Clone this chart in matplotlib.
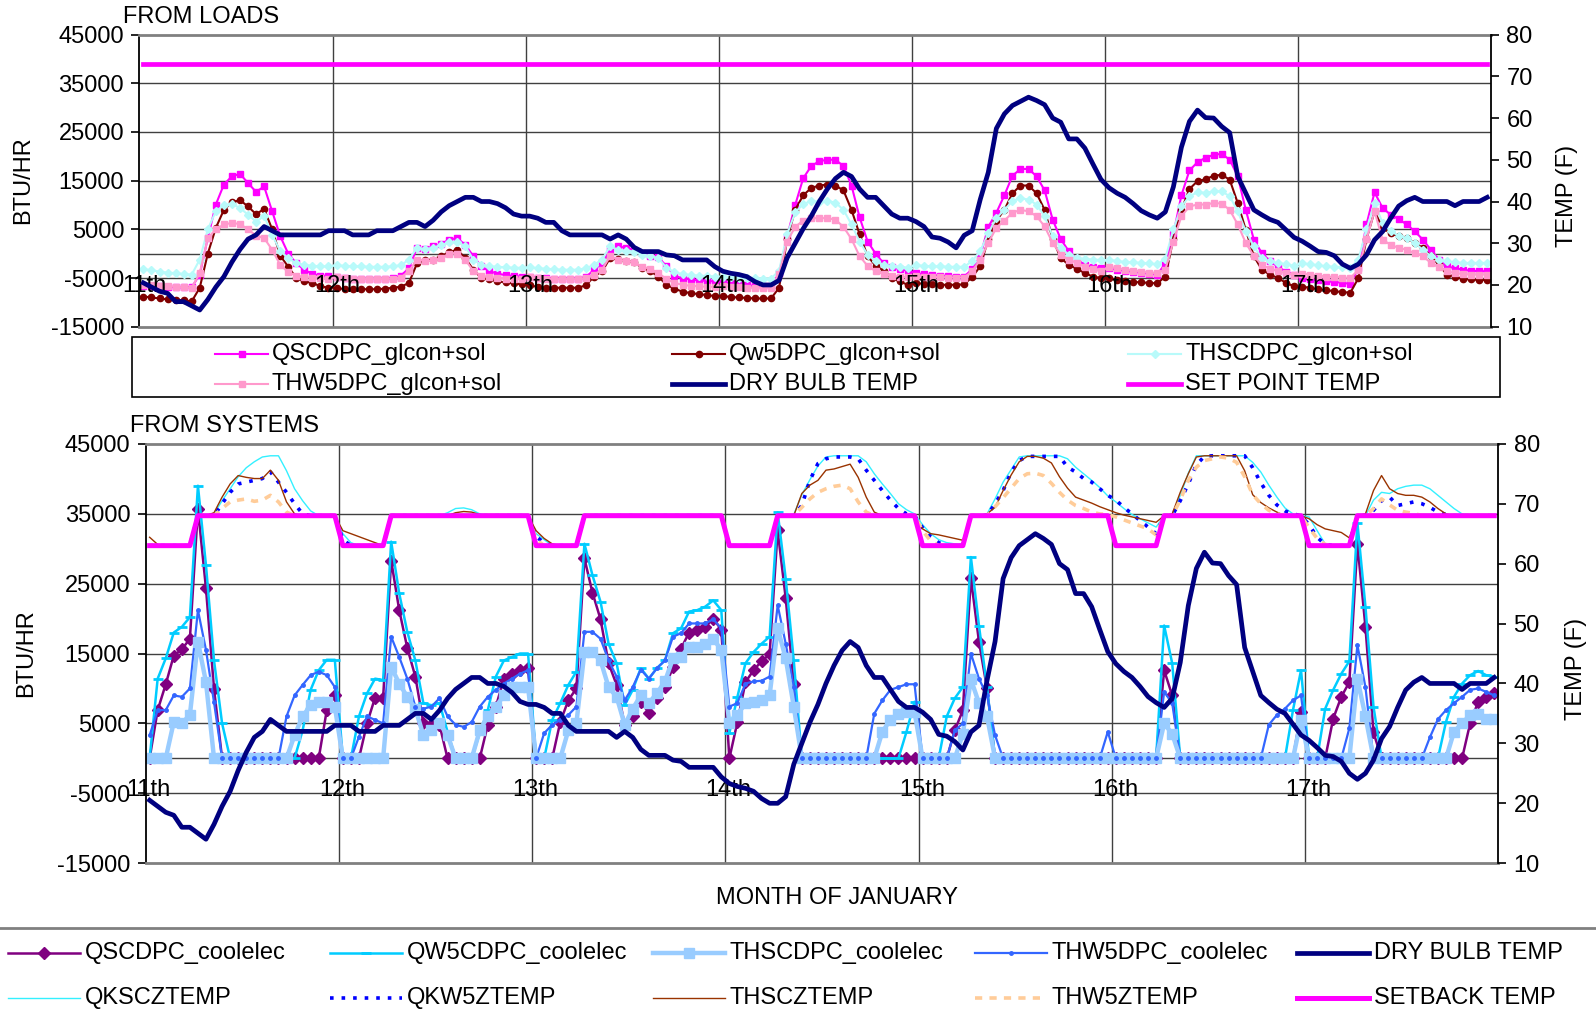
import numpy as np
import matplotlib
matplotlib.use('Agg')
import matplotlib.pyplot as plt
from matplotlib.lines import Line2D
from matplotlib.patches import Rectangle

plt.rcParams['font.family'] = ['Liberation Sans', 'DejaVu Sans']
plt.rcParams['axes.unicode_minus'] = False

days = ['11th', '12th', '13th', '14th', '15th', '16th', '17th']

# ---- hourly data, one row per day (11th .. 17th) ----
dry_bulb = [
    [20.5, 19.5, 18.5, 18, 16, 16, 15, 14, 16.5, 19.5, 22, 25.5, 28.5, 31, 32, 34, 33, 32, 32, 32, 32, 32, 32, 33],
    [33, 33, 32, 32, 32, 33, 33, 33, 34, 35, 35, 34, 35.5, 37.5, 39, 40, 41, 41, 40, 40, 39.5, 38.5, 37, 36.5],
    [36.5, 36, 35, 35, 33, 32, 32, 32, 32, 32, 31, 32, 31, 29, 28, 28, 28, 27.2, 27, 26, 26, 26, 26, 24.4],
    [23.3, 22.8, 22.5, 22, 20.8, 20, 20, 21.1, 26.5, 30, 33.5, 36.5, 40, 43, 45.5, 47, 46, 43, 41, 41, 39, 37, 36, 36],
    [35.2, 34, 31.5, 31.2, 30.3, 28.9, 31.9, 33, 40.5, 47, 57.5, 61, 63, 64, 65, 64.2, 63.2, 60, 59, 55, 55, 52.8, 49, 45.3],
    [43.3, 42, 41, 39.5, 37.8, 36.8, 36, 37.5, 43.5, 53, 59.2, 61.9, 60.1, 60, 58, 56.5, 46, 42, 38, 36.8, 35.7, 35, 33.2, 31.4],
    [30.5, 29.3, 28, 27.8, 27, 25, 24, 25, 27.2, 30.8, 32.8, 36, 38.9, 40.2, 41, 40, 40, 40, 40, 39, 40, 40, 40, 41],
]
set_point = [73] * 168

qsc_load = [
    [-6700, -6700, -6700, -6800, -6900, -6900, -6900, -4300, 3200, 10100, 14200, 15900, 16400, 14500, 12700, 13800, 8700, 3600, 0, -2000, -3300, -4200, -4500, -4600],
    [-4800, -5000, -5100, -5200, -5200, -5200, -5200, -5000, -4500, -3000, 1200, 1000, 1500, 2000, 2900, 3200, 1800, -500, -2600, -3600, -4100, -4400, -4600, -4700],
    [-4700, -4900, -5000, -5100, -5100, -5100, -5100, -4800, -3300, -2000, 800, 1500, 1200, 800, 100, -500, -700, -2600, -4500, -5100, -5300, -5500, -5600, -5700],
    [-5800, -6000, -6300, -6500, -6600, -6700, -6700, -4000, 3500, 10000, 15500, 18000, 19000, 19300, 19300, 18000, 14000, 7500, 2500, 0, -2000, -2800, -3200, -3500],
    [-4000, -4200, -4400, -4500, -4600, -4700, -4700, -3200, -500, 5500, 8400, 12000, 16000, 17400, 17400, 15900, 13000, 7000, 3000, 500, -1200, -2300, -2700, -2900],
    [-3000, -3300, -3500, -3700, -3900, -4100, -4300, -2000, 4000, 12000, 17100, 18800, 19700, 20300, 20500, 19300, 15900, 9000, 2900, 100, -1500, -2700, -3700, -4300],
    [-5000, -5300, -5500, -5700, -5800, -6000, -6200, -3000, 6000, 12600, 9400, 8000, 7100, 6000, 4600, 2900, 800, -1200, -2600, -3000, -3300, -3500, -3600, -3600],
]
qw5_load = [
    [-8800, -9000, -9200, -9400, -9500, -9600, -9800, -7000, 0, 5300, 9000, 10600, 11000, 9700, 8100, 9200, 5000, -400, -2700, -5000, -5700, -6000, -6700, -7000],
    [-7000, -7300, -7300, -7300, -7300, -7300, -7200, -7000, -6800, -6000, -2000, -1300, -1200, -500, 300, 800, -900, -3300, -5000, -5300, -5700, -5900, -6100, -6300],
    [-6500, -6800, -7000, -7000, -7000, -7000, -7000, -6500, -4700, -3600, -900, -1100, -1500, -1800, -2900, -3600, -4700, -6400, -7200, -7800, -8100, -8300, -8500, -8700],
    [-8700, -8900, -9000, -9100, -9200, -9200, -9200, -7000, 3000, 9000, 12000, 13500, 14000, 14200, 14000, 13000, 9000, 4000, -500, -2500, -3500, -5000, -5700, -6400],
    [-6000, -6200, -6300, -6400, -6400, -6400, -6300, -4800, -2600, 3000, 6800, 9000, 12400, 14000, 14000, 12400, 9000, 3000, -900, -2300, -3100, -4000, -4700, -5000],
    [-5000, -5400, -5700, -5800, -5900, -6000, -6100, -4700, 3000, 9000, 13300, 14900, 15300, 16000, 16200, 15200, 10400, 4900, -500, -3300, -4300, -5000, -6000, -6700],
    [-6800, -7000, -7300, -7500, -7700, -7900, -8000, -5000, 3000, 8700, 5300, 4200, 3600, 3200, 2200, 1200, -500, -2300, -4300, -4700, -5200, -5300, -5400, -5400],
]
thsc_load = [
    [-3200, -3400, -3700, -3900, -4000, -4200, -4300, -1200, 5000, 8700, 10000, 10200, 9400, 8000, 6600, 7700, 3900, 500, -900, -2000, -2300, -2500, -2600, -2600],
    [-2400, -2500, -2600, -2600, -2700, -2700, -2700, -2600, -2400, -1200, 1200, 900, 1200, 1800, 2300, 2500, 1500, -1200, -2300, -2600, -2700, -2800, -2900, -2900],
    [-2800, -3000, -3100, -3200, -3300, -3300, -3300, -3000, -2300, -1200, 1500, 800, 600, 400, -200, -500, -900, -2900, -3800, -4200, -4400, -4500, -4600, -4700],
    [-4700, -4800, -4900, -5000, -5000, -5100, -5100, -3500, 4000, 8500, 10200, 10800, 10700, 10800, 10500, 9000, 6000, 2500, -200, -1500, -2300, -2600, -2700, -2900],
    [-2400, -2500, -2600, -2600, -2700, -2700, -2700, -1500, 500, 4200, 7300, 9000, 10800, 11400, 11100, 10100, 7700, 3600, 1200, -200, -900, -1100, -1200, -1300],
    [-1300, -1500, -1700, -1800, -1900, -2000, -2200, -1000, 5000, 9700, 11800, 12600, 12500, 12800, 12800, 11800, 8700, 4600, 1500, -900, -1600, -1900, -2200, -2500],
    [-2000, -2200, -2400, -2600, -2700, -2800, -2900, -1200, 5000, 10400, 6300, 4600, 3700, 3200, 2200, 800, -500, -1200, -1600, -1800, -1900, -1900, -1900, -1900],
]
thw5_load = [
    [-6400, -6500, -6600, -6700, -6800, -6900, -7000, -4000, 3200, 5000, 6000, 6300, 6100, 5000, 3700, 3200, 800, -2300, -3800, -4500, -4800, -5000, -5000, -5200],
    [-4800, -5000, -5100, -5200, -5200, -5200, -5200, -5100, -4900, -3600, -1200, -1500, -1400, -900, 0, 0, -1200, -3600, -4500, -4800, -5000, -5100, -5200, -5200],
    [-4800, -5000, -5100, -5200, -5200, -5200, -5200, -5000, -4300, -3300, -500, -1200, -1500, -1800, -2700, -3100, -4000, -5200, -6000, -6400, -6600, -6700, -6800, -6800],
    [-6700, -6800, -6900, -7000, -7000, -7000, -7000, -4200, 2500, 5500, 6800, 7300, 7300, 7300, 7000, 5500, 3000, -500, -2500, -3600, -4200, -4500, -4700, -4800],
    [-4500, -4700, -4800, -4800, -4900, -4900, -4900, -3600, -1200, 2200, 5300, 6800, 8400, 9000, 8700, 7700, 5600, 2200, -200, -1200, -1900, -2700, -3200, -3600],
    [-2700, -3000, -3300, -3500, -3700, -3900, -4000, -3300, 2500, 7700, 9700, 10100, 10100, 10400, 10300, 9000, 6000, 2200, -500, -2300, -3100, -3600, -4000, -4300],
    [-4100, -4300, -4500, -4700, -4800, -4900, -5000, -3300, 3000, 8700, 2900, 1800, 1200, 800, 100, -500, -1900, -2700, -3600, -4000, -4200, -4300, -4300, -4300],
]

qsc_cool = [
    [0, 6900, 10600, 14700, 15600, 17100, 35700, 24300, 9900] + [0] * 13 + [6900, 9000],
    [0, 0, 0, 5000, 8700, 8700, 28300, 21200, 15800, 11700, 5000, 4800, 4800, 0, 0, 0, 0, 0, 4800, 7400, 11400, 12100, 12600, 12900],
    [0, 0, 0, 5200, 8300, 10000, 28600, 23700, 19900, 13600, 10500, 4800, 6000, 8100, 6500, 8600, 10200, 13000, 15700, 18000, 18300, 18800, 20000, 18400],
    [0, 5200, 10900, 12600, 13900, 14900, 32600, 22900, 10600] + [0] * 15,
    [0, 0, 0, 0, 4000, 6900, 25800, 16700, 10000] + [0] * 15,
    [0] * 6 + [12600, 9000] + [0] * 15 + [6700],
    [0, 0, 0, 5700, 8800, 10900, 30700, 18800, 3700] + [0] * 11 + [5000, 8100, 8800, 9300],
]
qw5_cool = [
    [0, 11400, 14300, 18000, 18800, 20200, 39000, 27600, 14000, 5000] + [0] * 9 + [4000, 9800, 12600, 14100, 14100],
    [0, 0, 6000, 9300, 11400, 11200, 31000, 23600, 18100, 14000, 7900, 7600, 7900, 3800, 0, 0, 0, 3600, 6900, 11700, 14000, 14500, 15000, 15000],
    [0, 0, 5500, 7900, 10500, 12400, 30700, 26200, 22400, 16400, 13600, 7600, 9800, 12900, 11400, 12900, 14000, 17900, 18600, 21000, 21200, 21700, 22600, 21200],
    [3600, 8800, 13600, 15200, 16400, 17400, 35200, 25700, 14000] + [0] * 13 + [3800, 8100],
    [0, 0, 0, 6000, 8600, 10200, 28800, 19000, 10200] + [0] * 15,
    [0] * 6 + [19000, 13600] + [0] * 14 + [6900, 12600],
    [0, 0, 7100, 9800, 12100, 13900, 33700, 21700, 7400] + [0] * 8 + [5200, 8800, 10700, 11900, 12500, 11900, 11700],
]
thsc_cool = [
    [0, 0, 0, 5200, 5000, 6200, 16700, 10900] + [0] * 10 + [3300, 6000, 7600, 8100, 8100, 7400],
    [0] * 6 + [13100, 10700, 8800, 7100, 3300, 4000, 5000, 3300, 0, 0, 0, 4000, 6000, 7400, 9000, 10200, 10200, 10200],
    [0, 0, 0, 0, 4000, 5000, 15200, 15200, 14000, 10200, 8800, 4800, 7100, 9000, 7900, 9300, 11000, 14300, 14500, 16000, 16000, 16300, 17100, 15500],
    [5000, 6200, 7900, 8100, 8300, 9000, 18600, 14300, 7400] + [0] * 10 + [3800, 5500, 6400, 6600, 6600],
    [0, 0, 0, 0, 0, 3500, 11300, 7900, 6000] + [0] * 15,
    [0] * 6 + [5000, 3500] + [0] * 15 + [5500],
    [0] * 6 + [11400, 6000] + [0] * 10 + [3800, 5000, 6200, 6400, 5700, 5700],
]
thw5_cool = [
    [3300, 6900, 6900, 9000, 8800, 10000, 21200, 15500, 8000] + [0] * 8 + [6000, 9000, 10500, 11900, 12400, 11900, 10200],
    [0, 0, 3100, 6000, 5500, 5000, 17400, 14500, 11400, 7400, 7100, 7400, 8600, 6000, 4800, 4500, 5200, 7400, 8800, 9800, 10700, 11400, 12100, 12600],
    [0, 3600, 4800, 5500, 6200, 7400, 18100, 18100, 17100, 14000, 11700, 8300, 10200, 12700, 11400, 12900, 14000, 17400, 17900, 19300, 19300, 19300, 19900, 18600],
    [7400, 7900, 10700, 11000, 11100, 11700, 21900, 16400, 10200] + [0] * 9 + [6400, 8300, 9800, 10200, 10600, 10600],
    [0, 0, 0, 0, 4000, 5000, 15000, 11400, 9000, 3300] + [0] * 13 + [3800],
    [0] * 6 + [9500, 7900] + [0] * 11 + [4800, 6200, 7100, 8300, 9000],
    [0, 0, 0, 0, 0, 4300, 16200, 10200] + [0] * 7 + [3000, 5600, 6900, 7900, 8800, 9800, 10000, 9500, 9000],
]

night = [63, 63, 63, 63, 63, 63]
qksc_ztemp = [
    night + [68, 68, 68.3, 70.5, 72.5, 74.5, 76, 77, 77.8, 78, 78, 75.5, 72.5, 70.5, 68.8, 68, 68, 68],
    [65, 63.5, 63, 63, 63, 63, 68, 68, 68, 68, 68, 68, 68, 68.5, 69.2, 69.3, 69, 68.3, 68, 68, 68, 68, 68, 68],
    [65, 64, 63, 63, 63, 63] + [68] * 18,
    night + [68, 68, 68.2, 71.5, 74, 76.3, 77.8, 78, 78, 78, 78, 77, 75, 73.3, 71.7, 70, 69, 68.3],
    [66.5, 65, 64, 63.5, 63.3, 63.2, 68, 68, 68.3, 70.8, 73.6, 75.7, 77.8, 78, 78, 78, 78, 78, 77.5, 76.1, 75, 73.9, 72.7, 71.3],
    [70.3, 69.2, 68.2, 67.5, 66.8, 66.1, 68, 68, 71.4, 75.1, 78, 78, 78, 78, 78, 78, 78, 76.9, 75.3, 73.1, 71.1, 69.3, 68.3, 68],
    [67.8, 65.5, 63.3, 63, 63, 63, 68, 68, 70.6, 71.9, 71.7, 72.5, 72.9, 73.1, 73.1, 72.5, 71.4, 70.3, 69.2, 68.3, 68, 68, 68, 68],
]
qkw5_ztemp = [
    night + [68, 68, 68, 70, 71.9, 73.3, 73.6, 73.9, 74.2, 75.3, 73.6, 71.9, 70, 68.3, 68, 68, 68, 68],
    [64, 63, 63, 63, 63, 63] + [68] * 18,
    [64.5, 63.5, 63, 63, 63, 63] + [68] * 18,
    night + [68, 68, 68, 69.7, 73.9, 76.7, 77.5, 77.8, 77.8, 77.8, 77.5, 75.6, 73.9, 72.2, 70.6, 69.2, 68.3, 68],
    [66, 64.5, 63.5, 63, 63, 63, 68, 68, 68, 70, 72.2, 75.3, 77.2, 77.9, 77.9, 77.9, 77.9, 77.9, 76.1, 75.3, 74.2, 73.6, 72.5, 71.4],
    [70.6, 69.4, 68.3, 67.2, 66.1, 65, 68, 68, 70.5, 73.3, 76.5, 77.9, 78, 78, 78, 78, 78, 76, 73.5, 71.4, 69.8, 68.8, 68.3, 68],
    [66.5, 64.4, 63.2, 63, 63, 63, 68, 68, 68.9, 70.5, 71.1, 69.7, 70, 70.3, 70, 69.4, 68.6, 68.2, 68, 68, 68, 68, 68, 68],
]
thsc_ztemp = [
    [64.4, 63.2, 63, 63, 63, 63, 68, 68, 68.5, 71.1, 73.3, 74.7, 74.4, 74.2, 74.2, 75.6, 73.9, 70.3, 68.3, 68, 68, 68, 68, 68],
    [65.5, 65, 64.5, 64, 63.5, 63, 68, 68, 68, 68, 68, 68, 68, 68, 68.5, 68.7, 68.6, 68.2, 68, 68, 68, 68, 68, 68],
    [65.5, 64.2, 63.3, 63, 63, 63] + [68] * 18,
    night + [68, 68, 68, 71.7, 73.1, 73.9, 75.6, 75.8, 76.2, 76.6, 74.4, 71.1, 68.6, 68, 68, 68, 68, 68],
    [65.8, 65, 64.8, 64.5, 64.2, 63.9, 68, 68, 68.3, 69.4, 72.2, 74.8, 77, 77.9, 77.9, 77.6, 76.8, 74.5, 72.6, 71.1, 70.6, 70.1, 69.5, 69],
    [68.5, 68.1, 67.8, 67.5, 67.2, 66.9, 68, 68.3, 71.9, 75, 77.8, 78, 78, 78, 78, 78, 75.5, 71.5, 70.2, 69.3, 68.6, 68, 68, 68],
    [67.5, 66.5, 65.8, 65.5, 65.2, 64.3, 68, 68.3, 72.2, 74.7, 72.5, 71.7, 71.4, 71.4, 71.1, 70.3, 69.2, 68.3, 68, 68, 68, 68, 68, 68],
]
thw5_ztemp = [
    night + [68, 68, 68, 69.2, 70.3, 70.6, 70.8, 70.4, 70.6, 71.4, 70.3, 68.6, 68, 68, 68, 68, 68, 68],
    night + [68] * 18,
    [64, 63, 63, 63, 63, 63] + [68] * 18,
    night + [68, 68, 68, 69.4, 70.8, 71.9, 72.5, 72.9, 73.1, 72.5, 70.3, 68.6, 68, 68, 68, 68, 68, 68],
    [65.5, 63.8, 63, 63, 63, 63, 68, 68, 68, 69.5, 71, 72.6, 74.2, 75, 75.1, 74.7, 73.4, 71.9, 70.6, 69.7, 69.2, 68.6, 68.3, 68.2],
    [67.8, 67.3, 66.8, 66.3, 65.8, 64.8, 68, 68, 70.6, 73.9, 76.1, 77.2, 77.5, 77.8, 77.6, 76.9, 74.5, 71.5, 70, 68.9, 68.3, 68, 68, 68],
    [66, 64.2, 63.2, 63, 63, 63, 68, 68, 69.2, 70.8, 69.8, 68.9, 68.6, 68.4, 68, 68, 68, 68, 68, 68, 68, 68, 68, 68],
]
setback = [night + [68] * 18 for _ in days]


def hourly(rows):
    a = np.concatenate([np.asarray(r, dtype=float) for r in rows])
    assert len(a) == 168, len(a)
    return a


x = np.arange(168) + 0.5

W, H = 1596, 1019
FS = 17
TS = 17

s_qsc_load = dict(color='#FF00FF', lw=1.5, marker='s', ms=4.5)
s_qw5_load = dict(color='#800000', lw=1.5, marker='o', ms=4.5)
s_thsc_load = dict(color='#B8FAFA', lw=1.5, marker='D', ms=4)
s_thw5_load = dict(color='#FF99CC', lw=1.5, marker='s', ms=4.5)
s_dbt = dict(color='#000080', lw=3.4)
s_setpt = dict(color='#FF00FF', lw=3.4)

s_qsc_cool = dict(color='#800080', lw=1.8, marker='D', ms=6)
s_qw5_cool = dict(color='#00CCFF', lw=1.8, marker='_', ms=7, mew=2)
s_thsc_cool = dict(color='#99CCFF', lw=3.2, marker='s', ms=7)
s_thw5_cool = dict(color='#3366FF', lw=1.6, marker='o', ms=2.5)
s_qksc_z = dict(color='#33F0FF', lw=1.0)
s_qkw5_z = dict(color='#0000FF', lw=2.6, ls=(0, (1.0, 2.2)))
s_thsc_z = dict(color='#993300', lw=1.0)
s_thw5_z = dict(color='#FFCC99', lw=2.6, ls=(0, (2.0, 2.0)))
s_setback = dict(color='#FF00FF', lw=3.6)

fig = plt.figure(figsize=(W / 100, H / 100), dpi=100)


def fx(p):
    return p / W


def fy(p):
    return 1 - p / H


def box(l, t, r, b):
    return [fx(l), fy(b), fx(r) - fx(l), fy(t) - fy(b)]


def setup(ax, label_y, label_dx):
    ax.set_xlim(0, 168)
    ax.set_ylim(-15000, 45000)
    ax.set_yticks(np.arange(-15000, 45001, 10000))
    ax.set_xticks([])
    for y in [35000, 25000, 15000, 5000, 0, -5000]:
        ax.axhline(y, color='#404040', lw=1, zorder=0)
    for d in range(1, 7):
        ax.axvline(24 * d, color='#404040', lw=1, zorder=0)
    for i, d in enumerate(days):
        ax.text(24 * i + label_dx, label_y, d, ha='center', va='center', fontsize=FS, zorder=5)
    for s in ['top', 'bottom']:
        ax.spines[s].set_color('#808080')
        ax.spines[s].set_linewidth(2)
    ax.spines['left'].set_linewidth(1.3)
    ax.spines['right'].set_visible(False)
    ax.tick_params(axis='y', direction='out', length=6, width=1.2, labelsize=TS, pad=5)

    axr = ax.twinx()
    axr.set_xlim(0, 168)
    axr.set_ylim(10, 80)
    axr.set_yticks(range(10, 81, 10))
    for s in ['top', 'bottom', 'left']:
        axr.spines[s].set_visible(False)
    axr.spines['right'].set_linewidth(1.3)
    axr.tick_params(axis='y', direction='out', length=6, width=1.2, labelsize=TS, pad=5)
    return axr


# ---- top panel: from loads ----
ax1 = fig.add_axes(box(139.4, 34.6, 1491.2, 326.7))
ax1r = setup(ax1, -6700, 0.6)
ax1.plot(x, hourly(qsc_load), **s_qsc_load)
ax1.plot(x, hourly(qw5_load), **s_qw5_load)
ax1.plot(x, hourly(thsc_load), **s_thsc_load)
ax1.plot(x, hourly(thw5_load), **s_thw5_load)
ax1r.plot(x, hourly(dry_bulb), **s_dbt)
ax1r.plot(x, set_point, **s_setpt)

# ---- bottom panel: from systems ----
ax2 = fig.add_axes(box(145.6, 443.8, 1498.3, 863.2))
ax2r = setup(ax2, -4550, 0.4)
ax2.plot(x, hourly(qsc_cool), zorder=2.0, **s_qsc_cool)
ax2.plot(x, hourly(qw5_cool), zorder=2.1, **s_qw5_cool)
ax2.plot(x, hourly(thw5_cool), color=s_thw5_cool['color'], lw=s_thw5_cool['lw'], zorder=2.2)
ax2.plot(x, hourly(thsc_cool), zorder=2.3, **s_thsc_cool)
ax2.plot(x, hourly(thw5_cool), ls='none', marker='o', ms=2.5, color=s_thw5_cool['color'], zorder=2.4)
ax2r.plot(x, hourly(qksc_ztemp), **s_qksc_z)
ax2r.plot(x, hourly(qkw5_ztemp), **s_qkw5_z)
ax2r.plot(x, hourly(thsc_ztemp), **s_thsc_z)
ax2r.plot(x, hourly(thw5_ztemp), **s_thw5_z)
ax2r.plot(x, hourly(dry_bulb), **s_dbt)
ax2r.plot(x, hourly(setback), **s_setback)

# ---- labels ----
fig.text(fx(123), fy(17), 'FROM LOADS', ha='left', va='center', fontsize=FS)
fig.text(fx(130), fy(426), 'FROM SYSTEMS', ha='left', va='center', fontsize=FS)
fig.text(fx(23), fy(180), 'BTU/HR', rotation=90, ha='center', va='center', fontsize=FS)
fig.text(fx(26.5), fy(653), 'BTU/HR', rotation=90, ha='center', va='center', fontsize=FS)
fig.text(fx(1567), fy(196), 'TEMP (F)', rotation=90, ha='center', va='center', fontsize=FS)
fig.text(fx(1576), fy(669), 'TEMP (F)', rotation=90, ha='center', va='center', fontsize=FS)
fig.text(fx(837), fy(898), 'MONTH OF JANUARY', ha='center', va='center', fontsize=FS)


def legend_item(x0, y, length, label, style, gap=5):
    xs = [fx(x0), fx(x0 + length / 2), fx(x0 + length)]
    ln = Line2D(xs, [fy(y)] * 3, transform=fig.transFigure, markevery=[1], **style)
    fig.add_artist(ln)
    fig.text(fx(x0 + length + gap), fy(y), label, ha='left', va='center', fontsize=FS)


# top legend (boxed)
fig.add_artist(Rectangle((fx(131.6), fy(397.3)), fx(1499.6) - fx(131.6), fy(337.3) - fy(397.3),
                         transform=fig.transFigure, fill=False, edgecolor='black', lw=1.2))
top_items = [
    ('QSCDPC_glcon+sol', s_qsc_load), ('Qw5DPC_glcon+sol', s_qw5_load), ('THSCDPC_glcon+sol', s_thsc_load),
    ('THW5DPC_glcon+sol', s_thw5_load), ('DRY BULB TEMP', s_dbt), ('SET POINT TEMP', s_setpt),
]
for k, (lab, st) in enumerate(top_items):
    legend_item([215, 672, 1128][k % 3], [354, 384][k // 3], 53, lab, st, gap=4)

# bottom legend
fig.add_artist(Line2D([0, 1], [fy(928)] * 2, transform=fig.transFigure, color='#808080', lw=2))
bot_items = [
    ('QSCDPC_coolelec', s_qsc_cool), ('QW5CDPC_coolelec', s_qw5_cool), ('THSCDPC_coolelec', s_thsc_cool),
    ('THW5DPC_coolelec', s_thw5_cool), ('DRY BULB TEMP', s_dbt),
    ('QKSCZTEMP', s_qksc_z), ('QKW5ZTEMP', s_qkw5_z), ('THSCZTEMP', s_thsc_z),
    ('THW5ZTEMP', s_thw5_z), ('SETBACK TEMP', s_setback),
]
for k, (lab, st) in enumerate(bot_items):
    legend_item([8, 330, 653, 975, 1297][k % 5], [953, 998][k // 5], 72, lab, st, gap=5)

fig.savefig('out.png', dpi=100)
